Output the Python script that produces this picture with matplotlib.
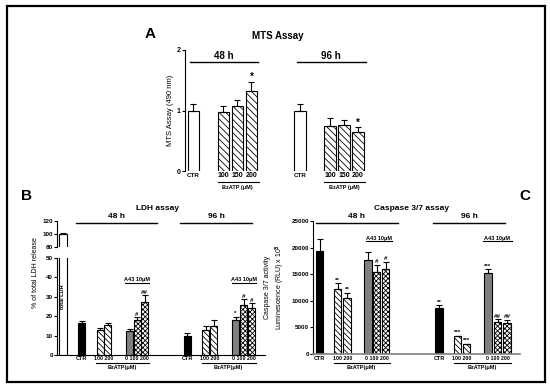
import matplotlib
matplotlib.use("Agg")
import matplotlib.pyplot as plt
from matplotlib.patches import Rectangle

plt.rcParams['font.family'] = ['Liberation Sans', 'DejaVu Sans']
plt.rcParams['font.weight'] = 'bold'
plt.rcParams['hatch.linewidth'] = 0.6

W, H = 550, 388

# ---- data ----
mts_labels = ['CTR', '100', '150', '200']
mts_48 = [1.00, 0.98, 1.08, 1.32]
mts_48_err = [0.10, 0.10, 0.10, 0.15]
mts_96 = [1.00, 0.75, 0.76, 0.65]
mts_96_err = [0.10, 0.13, 0.08, 0.07]
mts_48_sig = ['', '', '', '*']
mts_96_sig = ['', '', '', '*']

grp_labels = ['CTR', '100 200', '0 100 200']
ldh_48 = [16.5, 13.0, 15.5, 12.4, 18.0, 27.4]
ldh_48_err = [1.0, 0.8, 1.2, 0.8, 1.5, 3.5]
ldh_96 = [9.7, 12.9, 15.0, 17.8, 25.9, 24.2]
ldh_96_err = [1.7, 2.0, 3.0, 2.0, 3.0, 2.6]
ldh_48_sig = ['', '', '', '', '#', '##']
ldh_96_sig = ['', '', '', '*', '#', '#']
total_ldh = 100.0
total_ldh_err = 1.5

casp_48 = [19400, 12200, 10500, 17700, 15400, 15900]
casp_48_err = [2300, 1100, 1000, 1500, 1400, 1400]
casp_96 = [8600, 3300, 1800, 15200, 6000, 5800]
casp_96_err = [600, 100, 100, 700, 500, 600]
casp_48_sig = ['', '**', '**', '', '#', '#']
casp_96_sig = ['**', '***', '***', '***', '##', '##']

# bar styles: CTR, BzATP, A43 alone, A43 + BzATP
styles = [dict(color='black', hatch=None),
          dict(color='white', hatch='\\\\\\\\\\\\'),
          dict(color='white', hatch='\\\\\\\\\\\\'),
          dict(color='#808080', hatch=None),
          dict(color='white', hatch='xxxxxxx'),
          dict(color='white', hatch='xxxxxxx')]


def fx(x):
    return x / W


def fy(y):
    return 1 - y / H


def px_axes(x0, y0, x1, y1):
    """axes from pixel box (top-left origin); x data = pixel x"""
    ax = fig.add_axes([fx(x0), fy(y1), (x1 - x0) / W, (y1 - y0) / H])
    ax.set_xlim(x0, x1)
    ax.patch.set_alpha(0)
    for s in ['top', 'right']:
        ax.spines[s].set_visible(False)
    ax.tick_params(axis='y', length=2, width=0.8, pad=1, labelsize=4.5)
    ax.set_xticks([])
    return ax


def ftext(x, y, s, size=4.5, **kw):
    fig.text(fx(x), fy(y), s, fontsize=size, ha='center', va='center', **kw)


def hline(x0, x1, y, lw=0.9, color='black'):
    fig.add_artist(plt.Line2D([fx(x0), fx(x1)], [fy(y), fy(y)], lw=lw, color=color))


def draw_bars(ax, xs, vals, errs, sty, width, sig, sig_off, sig_size=5):
    for x, v, e, st, s in zip(xs, vals, errs, sty, sig):
        ax.bar(x, v, width=width, color=st['color'], hatch=st['hatch'],
               edgecolor='black', linewidth=0.8, zorder=2)
        ax.errorbar(x, v, yerr=[[0], [e]], fmt='none', ecolor='black',
                    elinewidth=0.8, capsize=2, capthick=0.8, zorder=3)
        if s:
            ax.text(x, v + e + sig_off, s, ha='center', va='bottom',
                    fontsize=sig_size, clip_on=False)


fig = plt.figure(figsize=(W / 100, H / 100), dpi=100)

# outer frame
fig.add_artist(Rectangle((fx(7), fy(382)), (545 - 7) / W, (382 - 6) / H,
                         fill=False, lw=1.6, ec='black'))

# ---------------- Panel A ----------------
axA = px_axes(185, 50, 372, 171)
axA.set_ylim(0, 2)
axA.set_yticks([0, 1, 2])
axA.tick_params(axis='y', labelsize=5)
axA.spines['bottom'].set_visible(False)
a48_x = [193.5, 223.5, 237.5, 251.5]
a96_x = [300, 330, 344, 358]
a_sty = [dict(color='white', hatch=None)] + [dict(color='white', hatch='\\\\\\\\\\')] * 3
draw_bars(axA, a48_x, mts_48, mts_48_err, a_sty, 11.5, mts_48_sig, 0.0, 7)
draw_bars(axA, a96_x, mts_96, mts_96_err, a_sty, 11.5, mts_96_sig, 0.0, 7)
axA.set_ylabel('MTS Assay (490 nm)', fontsize=5.5, labelpad=2)
ftext(278, 36, 'MTS Assay', size=7)
ftext(150, 34, 'A', size=11)
hline(190, 258, 62, lw=1.0)
hline(297, 366, 62, lw=1.0)
ftext(224, 56, '48 h', size=7)
ftext(331, 56, '96 h', size=7)
for xs in (a48_x, a96_x):
    for x, lab in zip(xs, mts_labels):
        ftext(x, 176, lab, size=4.5 if lab == 'CTR' else 5)
    hline(xs[1] - 6, xs[3] + 7, 182, lw=0.8)
    ftext((xs[1] + xs[3]) / 2, 187, 'BzATP (\u03bcM)', size=4)

# ---------------- Panel B ----------------
axB = px_axes(57, 258, 265, 355)
axB.set_ylim(0, 50)
axB.set_yticks(range(0, 51, 10))
axBu = px_axes(57, 221, 265, 247)
axBu.set_ylim(80, 120)
axBu.set_yticks([80, 100, 120])
axBu.spines['bottom'].set_visible(False)
b48_x = [81.5, 100, 107.5, 129.5, 137, 144.5]
b96_x = [187, 205.5, 213.5, 235.5, 243.5, 251.5]
for ax in (axB, axBu):
    ax.bar(63, total_ldh, width=7, color='white', edgecolor='black', linewidth=0.8, zorder=2)
axBu.errorbar(63, total_ldh, yerr=[[0], [total_ldh_err]], fmt='none', ecolor='black',
              elinewidth=0.8, capsize=2, capthick=0.8)
axB.text(63, 30, 'total LDH', rotation=90, ha='center', va='center', fontsize=4)
draw_bars(axB, b48_x, ldh_48, ldh_48_err, styles, 7, ldh_48_sig, 0.2, 4.5)
draw_bars(axB, b96_x, ldh_96, ldh_96_err, styles, 7, ldh_96_sig, 0.2, 4.5)
axB.set_ylabel('% of total LDH release', fontsize=5, labelpad=3)
axB.yaxis.set_label_coords(-0.085, 0.85)
ftext(158, 209, 'LDH assay', size=6)
ftext(27, 196, 'B', size=11)
hline(76, 157, 223, lw=1.0)
hline(180, 252, 223, lw=1.0)
ftext(116, 217, '48 h', size=6)
ftext(216, 217, '96 h', size=6)

# ---------------- Panel C ----------------
axC = px_axes(313, 221, 520, 354)
axC.set_ylim(0, 25000)
axC.set_yticks(range(0, 25001, 5000))
axC.spines['bottom'].set_color('#808080')
axC.spines['bottom'].set_linewidth(1.2)
c48_x = [319.5, 337.5, 347, 368, 376.5, 385.5]
c96_x = [439, 457.5, 466.5, 488, 497.5, 507]
draw_bars(axC, c48_x, casp_48, casp_48_err, styles, 7.5, casp_48_sig, 100, 4.5)
draw_bars(axC, c96_x, casp_96, casp_96_err, styles, 7.5, casp_96_sig, 100, 4.5)
axC.set_ylabel('Caspase 3/7 activity\nLuminescence (RLU) x 10$^3$', fontsize=5,
               labelpad=3, linespacing=1.3)
ftext(412, 209, 'Caspase 3/7 assay', size=6)
ftext(525, 196, 'C', size=11)
hline(316, 398, 223, lw=1.0)
hline(433, 505, 223, lw=1.0)
ftext(357, 217, '48 h', size=6)
ftext(469, 217, '96 h', size=6)

# x labels, A43 brackets for B and C
for xs48, xs96 in ((b48_x, b96_x), (c48_x, c96_x)):
    for xs in (xs48, xs96):
        ftext(xs[0], 359, grp_labels[0], size=4)
        ftext((xs[1] + xs[2]) / 2, 359, grp_labels[1], size=3.8)
        ftext((xs[3] + xs[5]) / 2, 359, grp_labels[2], size=3.8)
        hline(xs[1] - 4, xs[5] + 4, 363, lw=0.8)
        ftext((xs[1] + xs[5]) / 2, 368, 'BzATP(\u03bcM)', size=4)
ftext(137, 280, 'A43 10\u03bcM', size=4)
hline(125, 149, 283, lw=0.8)
ftext(244, 280, 'A43 10\u03bcM', size=4)
hline(232, 256, 283, lw=0.8)
ftext(379, 238, 'A43 10\u03bcM', size=4)
hline(366, 392, 241, lw=0.8)
ftext(497, 238, 'A43 10\u03bcM', size=4)
hline(483, 512, 241, lw=0.8)

fig.savefig('out.png', dpi=100)
